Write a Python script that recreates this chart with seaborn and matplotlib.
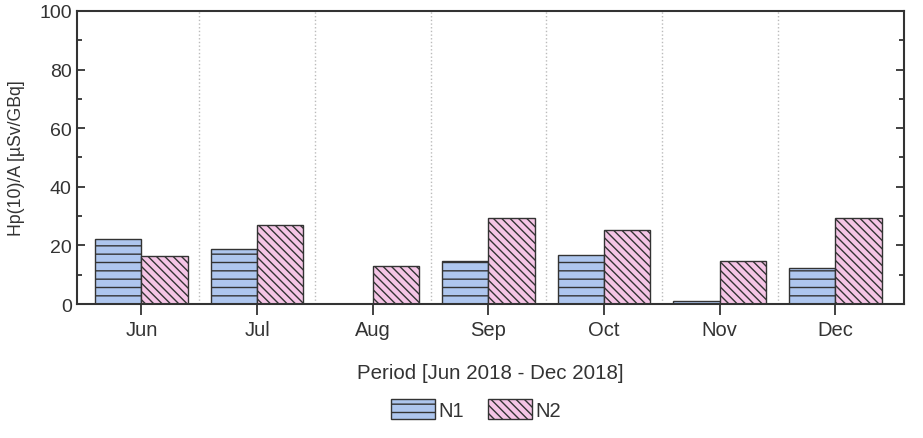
import numpy as np
import pandas as pd
import matplotlib
matplotlib.use('Agg')
import matplotlib.pyplot as plt
import seaborn as sns
from matplotlib.ticker import MultipleLocator

months = ['Jun', 'Jul', 'Aug', 'Sep', 'Oct', 'Nov', 'Dec']
n1 = [22.2, 18.8, np.nan, 14.8, 16.7, 1.1, 12.2]
n2 = [16.5, 27.1, 13.1, 29.4, 25.3, 14.6, 29.4]
groups = ['N1', 'N2']

df = pd.DataFrame({
    'month': months * 2,
    'value': n1 + n2,
    'group': ['N1'] * len(months) + ['N2'] * len(months),
})

sns.set_style('white')
plt.rcParams['font.family'] = ['Liberation Sans', 'DejaVu Sans']
plt.rcParams['hatch.linewidth'] = 1.0
plt.rcParams['hatch.color'] = '#333333'

colors = {'N1': '#aec6ee', 'N2': '#f5c5e6'}
hatches = {'N1': '--', 'N2': '\\\\\\\\'}

fig, ax = plt.subplots(figsize=(9.23, 4.39), dpi=100)
fig.subplots_adjust(left=0.083, right=0.979, top=0.973, bottom=0.305)

sns.barplot(data=df, x='month', y='value', hue='group', order=months,
            hue_order=groups, palette=colors, saturation=1, edgecolor='#333333',
            linewidth=1.0, legend=False, ax=ax)

for cont, g in zip(ax.containers, groups):
    for bar in cont:
        bar.set_hatch(hatches[g])
        bar.set_edgecolor('#333333')

for i in range(len(months) - 1):
    ax.axvline(i + 0.5, color='#bbbbbb', linestyle=':', linewidth=1.0, zorder=0)

ax.set_xlim(-0.56, 6.59)
ax.set_ylim(0, 100)
ax.yaxis.set_major_locator(MultipleLocator(20))
ax.yaxis.set_minor_locator(MultipleLocator(10))

for s in ax.spines.values():
    s.set_color('#333333')
    s.set_linewidth(1.5)

ax.tick_params(axis='y', which='both', direction='in', left=True, right=True,
               color='#333333', width=1.3, labelsize=14, labelcolor='#333333')
ax.tick_params(axis='y', which='major', length=6)
ax.tick_params(axis='y', which='minor', length=3.5)
ax.tick_params(axis='x', which='major', direction='out', bottom=True, length=8,
               width=1.3, color='#333333', labelsize=14.5, labelcolor='#333333')

ax.set_xlabel('Period [Jun 2018 - Dec 2018]', fontsize=14.8, color='#333333', labelpad=17)
ax.set_ylabel('Hp(10)/A [µSv/GBq]', fontsize=12.7, color='#333333', labelpad=10)

ax.legend(ax.containers, groups, loc='center', bbox_to_anchor=(0.516, 0.065),
          bbox_transform=fig.transFigure, ncol=2, frameon=False, fontsize=14.5,
          handlelength=2.15, handleheight=1.15, columnspacing=1.2, handletextpad=0.2,
          labelcolor='#333333')

fig.savefig('out.png', dpi=100)
